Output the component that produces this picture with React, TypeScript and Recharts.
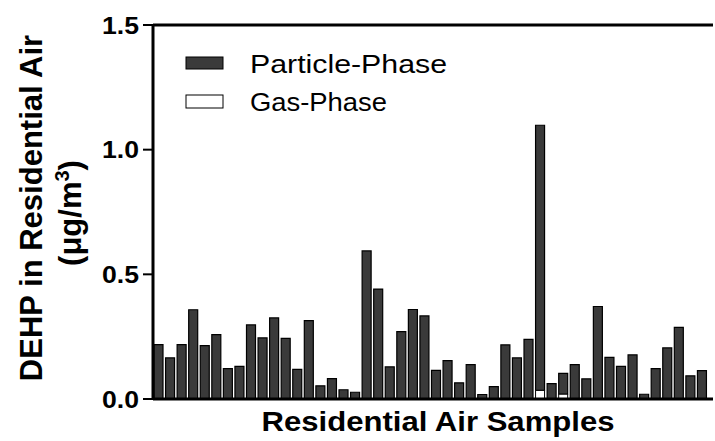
import React from "react";
import {
  Bar,
  BarChart,
  Legend,
  ReferenceLine,
  XAxis,
  YAxis,
} from "recharts";

// sample index 1..48
const samples = Array.from({ length: 48 }, (_, i) => `S${i + 1}`);

// particle-phase DEHP (µg/m3)
const particlePhase = [
  0.218, 0.165, 0.218, 0.358, 0.214, 0.258, 0.122, 0.131, 0.297, 0.245,
  0.325, 0.243, 0.119, 0.314, 0.053, 0.082, 0.037, 0.027, 0.594, 0.441,
  0.129, 0.27, 0.359, 0.333, 0.115, 0.154, 0.065, 0.138, 0.018, 0.05,
  0.217, 0.165, 0.239, 1.063, 0.062, 0.083, 0.138, 0.081, 0.371, 0.167,
  0.131, 0.177, 0.019, 0.122, 0.205, 0.287, 0.093, 0.114,
];

// gas-phase DEHP (µg/m3), only a couple are visible
const gasPhase = [
  0, 0, 0, 0, 0, 0, 0, 0, 0, 0,
  0, 0, 0, 0, 0, 0, 0, 0, 0, 0,
  0, 0, 0, 0, 0, 0, 0, 0, 0, 0,
  0, 0, 0, 0.035, 0, 0.02, 0, 0, 0, 0,
  0, 0, 0, 0, 0, 0, 0, 0,
];

const yTicks = [0, 0.5, 1.0, 1.5];

const data = samples.map((s, i) => ({
  sample: s,
  gas: gasPhase[i],
  particle: particlePhase[i],
}));

const FONT = '"Liberation Sans", Arial, Helvetica, sans-serif';
const BAR_FILL = "#3a3a3a";

const YTick = ({ x, y, payload }: any) => (
  <text
    x={x}
    y={y}
    dy={8.5}
    textAnchor="end"
    fontFamily={FONT}
    fontWeight="bold"
    fontSize={24}
    fill="#000"
    textLength={37}
    lengthAdjust="spacingAndGlyphs"
  >
    {Number(payload.value).toFixed(1)}
  </text>
);

const YTitle = () => (
  <g fontFamily={FONT} fontWeight="bold" fontSize={31} fill="#000">
    <text x={42} y={208} transform="rotate(-90 42 208)" textAnchor="middle">
      DEHP in Residential Air
    </text>
    <text x={81} y={213} transform="rotate(-90 81 213)" textAnchor="middle">
      (μg/m
      <tspan dy={-12} fontSize={20}>3</tspan>
      <tspan dy={12}>)</tspan>
    </text>
  </g>
);

const XTitle = ({ viewBox }: any) => (
  <text
    x={viewBox.x + viewBox.width / 2 + 5}
    y={431}
    textAnchor="middle"
    fontFamily={FONT}
    fontWeight="bold"
    fontSize={28}
    fill="#000"
    textLength={353}
    lengthAdjust="spacingAndGlyphs"
  >
    Residential Air Samples
  </text>
);

// legend drawn as a small svg, offset 10px down inside its box
const LegendBox = () => (
  <svg width={300} height={80} style={{ display: "block" }}>
    <rect x={1} y={11} width={37} height={12} fill={BAR_FILL} stroke="#000" />
    <rect x={1} y={49} width={37} height={13} fill="#fff" stroke="#000" />
    <text
      x={65}
      y={27}
      fontFamily={FONT}
      fontSize={25}
      fill="#000"
      textLength={197}
      lengthAdjust="spacingAndGlyphs"
    >
      Particle-Phase
    </text>
    <text
      x={65}
      y={65}
      fontFamily={FONT}
      fontSize={25}
      fill="#000"
      textLength={137}
      lengthAdjust="spacingAndGlyphs"
    >
      Gas-Phase
    </text>
  </svg>
);

export default function App() {
  return (
    <div style={{ width: 715, height: 441, background: "#fff" }}>
      <style>{"body{margin:0}"}</style>
      <BarChart
        width={715}
        height={441}
        data={data}
        margin={{ top: 25, right: 2, bottom: 0, left: 0 }}
        barSize={9}
      >
        <XAxis
          dataKey="sample"
          height={42}
          tick={false}
          tickLine={false}
          axisLine={{ stroke: "#000", strokeWidth: 3 }}
          padding={{ left: 0, right: 5 }}
          label={<XTitle />}
        />
        <YAxis
          width={153}
          domain={[0, 1.5]}
          ticks={yTicks}
          tick={<YTick />}
          tickSize={10}
          tickMargin={4}
          tickLine={{ stroke: "#000", strokeWidth: 2 }}
          axisLine={{ stroke: "#000", strokeWidth: 3 }}
          label={<YTitle />}
        />
        <YAxis
          yAxisId="right"
          orientation="right"
          width={0}
          domain={[0, 1.5]}
          tick={false}
          tickLine={false}
          axisLine={{ stroke: "#000", strokeWidth: 1 }}
        />
        <ReferenceLine y={1.5} stroke="#000" strokeWidth={3} />
        <Legend
          layout="horizontal"
          verticalAlign="middle"
          align="center"
          wrapperStyle={{ top: 46, left: 185, width: 300 }}
          content={<LegendBox />}
        />
        <Bar
          dataKey="gas"
          name="Gas-Phase"
          stackId="a"
          fill="#fff"
          stroke="#000"
          strokeWidth={1}
          isAnimationActive={false}
        />
        <Bar
          dataKey="particle"
          name="Particle-Phase"
          stackId="a"
          fill={BAR_FILL}
          stroke="#000"
          strokeWidth={1.2}
          isAnimationActive={false}
        />
      </BarChart>
    </div>
  );
}
